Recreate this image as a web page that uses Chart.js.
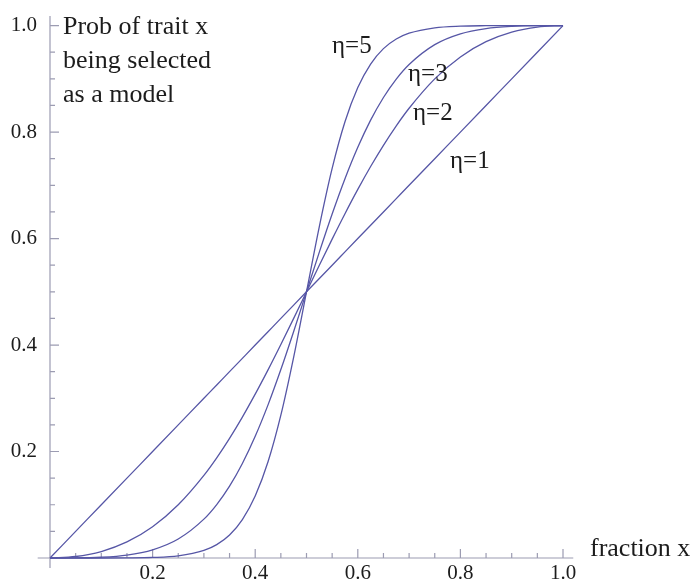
<!DOCTYPE html>
<html>
<head>
<meta charset="utf-8">
<script src="https://cdn.jsdelivr.net/npm/chart.js@4/dist/chart.umd.min.js"></script>
<style>
  html, body { margin: 0; padding: 0; background: #fff; }
  #wrap { width: 696px; height: 585px; }
</style>
</head>
<body>
<div id="wrap"><canvas id="chart" width="696" height="585"></canvas></div>
<script>
// x positions of the sampled points (fraction x)
const xs = [0, 0.05, 0.1, 0.15, 0.2, 0.25, 0.3, 0.325, 0.35, 0.375, 0.4, 0.425, 0.45, 0.475, 0.5,
  0.525, 0.55, 0.575, 0.6, 0.625, 0.65, 0.675, 0.7, 0.75, 0.8, 0.85, 0.9, 0.95, 1];

// probability of trait x being selected, one array per eta
const eta1 = [0, 0.05, 0.1, 0.15, 0.2, 0.25, 0.3, 0.325, 0.35, 0.375, 0.4, 0.425, 0.45, 0.475, 0.5,
  0.525, 0.55, 0.575, 0.6, 0.625, 0.65, 0.675, 0.7, 0.75, 0.8, 0.85, 0.9, 0.95, 1];
const eta2 = [0, 0.0028, 0.0122, 0.0302, 0.0588, 0.1, 0.1552, 0.1882, 0.2248, 0.2647, 0.3077, 0.3533, 0.4010, 0.4501, 0.5,
  0.5499, 0.5990, 0.6467, 0.6923, 0.7353, 0.7752, 0.8118, 0.8448, 0.9, 0.9412, 0.9698, 0.9878, 0.9972, 1];
const eta3 = [0, 0.0001, 0.0014, 0.0055, 0.0154, 0.0357, 0.0730, 0.1004, 0.1350, 0.1776, 0.2286, 0.2876, 0.3539, 0.4255, 0.5,
  0.5745, 0.6461, 0.7124, 0.7714, 0.8224, 0.8650, 0.8996, 0.9270, 0.9643, 0.9846, 0.9945, 0.9986, 0.9999, 1];
const eta5 = [0, 0, 0, 0.0002, 0.0010, 0.0041, 0.0143, 0.0252, 0.0433, 0.0722, 0.1164, 0.1807, 0.2683, 0.3774, 0.5,
  0.6226, 0.7317, 0.8193, 0.8836, 0.9278, 0.9567, 0.9748, 0.9857, 0.9959, 0.9990, 0.9998, 1, 1, 1];

const seriesNames = ['η=1', 'η=2', 'η=3', 'η=5'];
const tickValues = [0.2, 0.4, 0.6, 0.8, 1.0];
const minorTicks = [0.05, 0.1, 0.15, 0.2, 0.25, 0.3, 0.35, 0.4, 0.45, 0.5,
  0.55, 0.6, 0.65, 0.7, 0.75, 0.8, 0.85, 0.9, 0.95, 1.0];

const lineColor = '#5656a6';
const axisColor = '#9c9cb2';
const textColor = '#1c1c1c';
const serif = '"Liberation Serif", "DejaVu Serif", serif';

function toPoints(ys) {
  return xs.map((x, i) => ({ x: x, y: ys[i] }));
}

// Mathematica style axes: crossing at the origin, ticks pointing inwards
const axesPlugin = {
  id: 'axes',
  beforeDatasetsDraw(chart) {
    const { ctx } = chart;
    const sx = chart.scales.x, sy = chart.scales.y;
    const x0 = sx.getPixelForValue(0), y0 = sy.getPixelForValue(0);
    ctx.save();
    ctx.strokeStyle = axisColor;
    ctx.lineWidth = 1.2;
    ctx.beginPath();
    ctx.moveTo(sx.getPixelForValue(-0.024), y0);
    ctx.lineTo(sx.getPixelForValue(1.02), y0);
    ctx.moveTo(x0, sy.getPixelForValue(1.018));
    ctx.lineTo(x0, sy.getPixelForValue(-0.019));
    minorTicks.forEach(v => {
      const major = tickValues.some(t => Math.abs(t - v) < 1e-6);
      const len = major ? 9 : 5;
      const px = sx.getPixelForValue(v);
      ctx.moveTo(px, y0);
      ctx.lineTo(px, y0 - len);
      const py = sy.getPixelForValue(v);
      ctx.moveTo(x0, py);
      ctx.lineTo(x0 + len, py);
    });
    ctx.stroke();
    ctx.restore();
  },
  afterDraw(chart) {
    const { ctx } = chart;
    ctx.save();
    ctx.fillStyle = textColor;
    ctx.textBaseline = 'alphabetic';
    ctx.textAlign = 'left';
    ctx.font = '26px ' + serif;
    ctx.fillText('Prob of trait x', 63, 34);
    ctx.fillText('being selected', 63, 68);
    ctx.fillText('as a model', 63, 102);
    ctx.fillText('fraction x', 590, 556);
    ctx.font = '25px ' + serif;
    ctx.fillText(seriesNames[3], 332, 53);
    ctx.fillText(seriesNames[2], 408, 81);
    ctx.fillText(seriesNames[1], 413, 120);
    ctx.fillText(seriesNames[0], 450, 168);
    ctx.restore();
  }
};

const tickFont = { family: serif, size: 21 };
const fmt = v => (Math.abs(v) < 1e-9 ? '' : Number(v).toFixed(1));

new Chart(document.getElementById('chart'), {
  type: 'line',
  data: {
    datasets: [eta1, eta2, eta3, eta5].map((ys, i) => ({
      label: seriesNames[i],
      data: toPoints(ys),
      borderColor: lineColor,
      borderWidth: 1.3,
      pointRadius: 0,
      fill: false,
      cubicInterpolationMode: 'monotone',
      clip: false
    }))
  },
  plugins: [axesPlugin],
  options: {
    responsive: false,
    animation: false,
    layout: { padding: { top: 21, right: 133, left: 0, bottom: 0 } },
    plugins: { legend: { display: false }, tooltip: { enabled: false } },
    scales: {
      x: {
        type: 'linear',
        min: 0,
        max: 1,
        afterFit: s => { s.height = 27; },
        afterBuildTicks: s => { s.ticks = tickValues.map(v => ({ value: v })); },
        grid: { display: false, drawTicks: false },
        border: { display: false },
        ticks: { callback: fmt, font: tickFont, color: textColor, padding: 3, maxRotation: 0, autoSkip: false }
      },
      y: {
        min: 0,
        max: 1,
        afterFit: s => { s.width = 50; },
        afterBuildTicks: s => { s.ticks = tickValues.map(v => ({ value: v })); },
        grid: { display: false, drawTicks: false },
        border: { display: false },
        ticks: { callback: fmt, font: tickFont, color: textColor, padding: 13, autoSkip: false }
      }
    }
  }
});
</script>
</body>
</html>
